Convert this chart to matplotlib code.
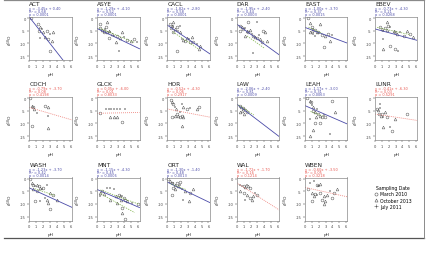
import matplotlib
matplotlib.use("Agg")
import matplotlib.pyplot as plt
from matplotlib.lines import Line2D

# ---------------- data ----------------
sites = ["ACT", "ASYE", "CACL", "DAR", "EAST", "EBEV",
         "CDCH", "GLCK", "HOR", "LAW", "LEAH", "LUNR",
         "WASH", "MNT", "ORT", "WAL", "WBEN"]

act_x = [0.2, 1.3, 1.55, 1.8, 1.4, 2.05, 2.55, 3.0, 2.3, 2.8, 1.55, 3.3, 3.5, 3.0]
act_y = [0.0, -2.4, -3.7, -4.3, -5.0, -5.6, -5.0, -6.3, -7.6, -8.3, -8.0, -8.9, -5.6, -12.9]
act_d = "MMOJMOMJOMJOOM"

asye_x = [0.5, 0.75, 0.95, 1.2, 1.45, 1.05, 1.7, 1.95, 1.35, 2.2, 2.45, 2.95, 3.4, 3.9, 4.4, 4.9, 5.4, 5.9, 2.7, 1.7, 3.2, 3.7, 0.5, 1.45]
asye_y = [-4.1, -4.6, -5.0, -4.3, -5.4, -5.6, -5.0, -5.6, -3.7, -6.3, -7.0, -7.2, -8.0, -7.6, -8.5, -8.9, -8.1, -9.3, -9.3, -8.0, -12.9, -5.4, -2.4, -1.7]
asye_d = "MOMJOMOJMOJMOJMOMJOMJOMO"

cacl_x = [0.4, 0.65, 0.9, 0.5, 1.15, 1.35, 1.6, 1.85, 0.8, 2.1, 2.35, 2.6, 2.85, 3.1, 3.3, 3.6, 3.8, 4.3, 4.8, 1.35, 0.9, 1.85, 4.6]
cacl_y = [-2.4, -3.0, -3.3, -4.1, -4.3, -3.7, -5.0, -5.6, -5.6, -8.3, -8.5, -8.9, -8.0, -8.3, -9.6, -7.6, -9.3, -10.2, -10.9, -12.9, -1.7, -3.0, -12.2]
cacl_d = "MOJMOMJOMJOMOJMOMJOMOJO"

dar_x = [0.5, 0.75, 0.95, 1.2, 1.45, 1.7, 1.95, 2.2, 2.45, 2.7, 2.95, 3.2, 3.4, 3.9, 4.4, 2.95, 1.7, 1.2, 3.7, 2.45, 4.15, 0.5]
dar_y = [-3.0, -3.7, -4.3, -4.1, -5.0, -5.6, -4.6, -6.3, -7.0, -7.6, -8.0, -6.7, -8.3, -5.0, -8.9, -1.7, -1.7, -7.0, -9.6, -13.6, -5.6, -5.0]
dar_d = "MOMJOMOJMOMJOMOJMOMJOM"

east_x = [0.5, 0.75, 0.95, 1.2, 0.95, 1.45, 1.7, 1.2, 1.95, 2.2, 1.45, 2.45, 2.9, 3.4, 3.9, 3.7, 2.7, 0.75]
east_y = [-0.1, -2.0, -3.7, -4.3, -5.0, -4.6, -5.6, -6.3, -5.4, -2.4, -7.0, -6.7, -7.0, -6.3, -6.7, -8.9, -11.5, -5.6]
east_d = "MOMJOMOJMOJMOMJOMO"

ebev_x = [0.75, 1.0, 1.2, 1.45, 1.7, 1.95, 2.2, 2.7, 2.95, 3.2, 3.7, 4.2, 4.7, 5.15, 5.6, 1.2, 2.2, 1.2, 2.95, 3.4, 1.7]
ebev_y = [-3.7, -4.3, -5.0, -4.1, -4.6, -3.0, -3.7, -5.0, -5.6, -6.3, -5.6, -7.0, -5.0, -6.3, -7.6, -8.3, -10.9, -12.2, -12.2, -12.9, -1.7]
ebev_d = "MOJMOMJOMOJMOMOJMOMJO"

cdch_x = [0.1, 0.35, 0.6, 0.75, 1.1, 2.3, 2.8, 2.8, 0.45, 2.8]
cdch_y = [0.0, -3.0, -3.7, -4.3, -6.0, -3.0, -3.4, -7.0, -10.9, -11.8]
cdch_d = "MOMOJMOJMO"

glck_x = [1.3, 1.7, 2.05, 2.45, 2.9, 3.35, 4.15, 1.95, 2.45, 2.9, 3.7, 0.5]
glck_y = [-4.3, -4.3, -4.3, -4.3, -4.3, -4.3, -4.3, -7.6, -7.6, -7.6, -9.6, -6.0]
glck_d = "JJJJJJJOOOMM"

hor_x = [0.5, 0.65, 0.9, 1.15, 1.25, 1.35, 1.6, 1.85, 2.1, 2.35, 1.8, 2.1, 2.3, 2.85, 3.3, 4.3, 4.6, 1.15, 0.65, 2.1]
hor_y = [-0.8, -1.7, -2.4, -3.7, -4.3, -6.3, -6.9, -5.6, -6.9, -7.6, -7.6, -2.4, -3.7, -4.3, -4.0, -4.3, -3.4, -6.9, -7.6, -10.9]
hor_d = "MOMJOMOJMOMJOMJOMOMO"

law_x = [0.5, 0.65, 0.9, 1.0, 0.75, 1.2, 0.5, 1.45, 1.0]
law_y = [-3.0, -3.7, -3.9, -4.3, -5.0, -4.7, -5.6, -5.6, -6.3]
law_d = "MOMJOMOMO"

leah_x = [0.25, 0.75, 0.85, 1.0, 1.2, 1.1, 1.45, 1.7, 1.95, 2.2, 2.45, 2.7, 1.6, 3.9, 4.4, 0.75, 1.45, 1.2, 2.2, 3.7, 0.75, 2.9]
leah_y = [0.0, -1.0, -1.7, -2.6, -3.7, -5.0, -5.6, -4.3, -6.3, -6.9, -7.6, -6.6, -7.6, -1.0, -5.6, -8.3, -10.0, -12.6, -10.0, -14.2, -14.8, -7.6]
leah_d = "MOMJOMOJMOMJOMOJMOMJOM"

lunr_x = [0.25, 0.5, 0.75, 0.65, 0.85, 1.0, 1.2, 1.45, 1.7, 1.1, 2.2, 2.45, 2.9, 4.7, 0.75]
lunr_y = [-4.3, -4.7, -3.9, -6.3, -6.9, -6.3, -7.6, -5.6, -7.6, -11.4, -11.6, -13.0, -8.3, -6.1, -2.4]
lunr_d = "MOJMOMJOMOJMOMJ"

wash_x = [0.1, 0.35, 0.6, 0.85, 1.1, 1.35, 1.55, 1.8, 2.05, 0.6, 1.1, 2.55, 3.05, 3.5, 4.0, 1.55, 0.85, 2.8, 3.05, 2.3, 2.55]
wash_y = [-0.1, -1.7, -2.4, -3.0, -2.4, -2.8, -3.7, -4.3, -3.7, -4.3, -5.0, -2.4, -5.6, -6.3, -8.3, -8.9, -8.9, -9.6, -12.0, -7.6, -8.3]
wash_d = "MOMJOMOJMOMJOMOJMOMJO"

mnt_x = [0.5, 0.75, 1.0, 1.45, 1.95, 2.45, 2.7, 3.2, 3.35, 3.7, 3.9, 3.45, 4.15, 4.4, 5.15, 6.0, 2.95, 3.7, 3.7, 4.15, 0.5, 1.95]
mnt_y = [-5.6, -5.0, -5.9, -3.7, -3.7, -4.3, -7.0, -6.3, -6.7, -6.7, -7.6, -8.3, -8.3, -8.9, -9.6, -10.2, -9.6, -11.6, -13.5, -16.0, -7.0, -8.3]
mnt_d = "OMOJJJOMOJMOMOJMOMOMJO"

ort_x = [0.15, 0.4, 0.65, 0.9, 1.15, 1.35, 1.6, 1.85, 0.9, 1.15, 0.65, 2.1, 2.6, 3.3, 3.1, 2.35, 1.85, 3.8]
ort_y = [-0.1, -1.0, -1.7, -1.9, -2.4, -1.7, -3.0, -2.4, -3.7, -4.3, -6.3, -4.3, -5.0, -5.6, -8.9, -8.3, -1.4, -4.3]
ort_d = "MOMJOMOJMOMJOMOJMO"

wal_x = [0.5, 0.75, 1.0, 1.2, 1.45, 1.7, 1.95, 0.5, 1.0, 1.45, 2.7, 2.95, 2.45, 1.95, 2.2, 1.2]
wal_y = [-2.4, -3.0, -2.8, -3.3, -2.4, -3.0, -3.7, -5.0, -5.6, -6.3, -5.6, -6.3, -7.0, -7.6, -8.3, -8.3]
wal_d = "JJMOJOMOMOJMOMOJ"

wben_x = [0.75, 1.25, 1.7, 1.95, 2.2, 2.1, 0.5, 1.0, 1.45, 1.25, 1.7, 2.2, 2.7, 2.45, 3.2, 3.7, 4.2, 4.65, 3.9, 2.9, 1.0, 2.7]
wben_y = [-1.7, -1.0, -2.4, -2.8, -2.0, -3.0, -4.3, -5.6, -5.9, -6.9, -6.3, -5.6, -6.9, -8.3, -6.3, -5.0, -5.6, -4.3, -7.6, -8.9, -8.9, -10.2]
wben_d = "JJMJOJMOMOJMOMOJMOMOMO"

site_x = [act_x, asye_x, cacl_x, dar_x, east_x, ebev_x, cdch_x, glck_x, hor_x,
          law_x, leah_x, lunr_x, wash_x, mnt_x, ort_x, wal_x, wben_x]
site_y = [act_y, asye_y, cacl_y, dar_y, east_y, ebev_y, cdch_y, glck_y, hor_y,
          law_y, leah_y, lunr_y, wash_y, mnt_y, ort_y, wal_y, wben_y]
site_d = [act_d, asye_d, cacl_d, dar_d, east_d, ebev_d, cdch_d, glck_d, hor_d,
          law_d, leah_d, lunr_d, wash_d, mnt_d, ort_d, wal_d, wben_d]

slopes = [-3.45, -1.29, -1.82, -1.95, -1.00, -0.73, -0.79, 0.05, -0.52,
          -2.06, -1.17, -0.41, -1.23, -1.15, -1.30, -1.72, -0.60]
intercepts = [0.40, -4.10, -2.80, -2.40, -3.70, -4.30, -3.70, -6.00, -4.30,
              -2.40, -3.00, -6.30, -3.70, -4.30, -1.40, -1.70, -3.50]
r2_vals = ["0.68", "0.52", "0.58", "0.44", "0.37", "0.21", "0.08", "0.01", "0.06",
           "0.81", "0.31", "0.03", "0.42", "0.45", "0.48", "0.16", "0.05"]
p_vals = ["0.0001", "0.0001", "0.0001", "0.0003", "0.0015", "0.0268", "0.4198", "0.8033", "0.2917",
          "0.0009", "0.0063", "0.5291", "0.0014", "0.0006", "0.0013", "0.1214", "0.3218"]
significant = [True, True, True, True, True, True, False, False, False,
               True, True, False, True, True, True, False, False]

# per-date (green) fits: site index, slope, intercept, x start, x end
green_site = [1, 2, 3, 4, 5, 9, 10, 12, 13, 13, 14]
green_slope = [-1.10, -1.80, -1.90, -1.20, -0.60, -1.80, -1.00, -0.90, -1.00, -1.50, -1.00]
green_int = [-3.6, -4.0, -4.2, -3.0, -3.5, -2.2, -4.5, -3.3, -4.0, -5.2, -1.6]
green_x0 = [0.3, 0.8, 1.5, 0.5, 0.3, 0.3, 0.8, 0.8, 0.5, 0.5, 0.5]
green_x1 = [5.5, 4.5, 4.0, 2.5, 5.0, 2.5, 2.6, 3.8, 6.0, 5.5, 2.8]

date_labels = ["March 2010", "October 2013", "July 2011"]
date_codes = ["M", "O", "J"]
date_markers = {"M": "o", "O": "^", "J": "+"}

x_ticks = [0, 1, 2, 3, 4, 5, 6]
y_ticks = [0, -5, -10, -15]

# ---------------- layout ----------------
W, H = 427, 255
fig = plt.figure(figsize=(W / 100, H / 100), dpi=100)
plt.rcParams["font.family"] = ["DejaVu Sans"]

col_left = [29.3, 97.0, 167.3, 236.7, 305.0, 375.0]
row_top = [18.0, 98.0, 178.5]
axw, axh = 42.5, 43.2

BLUE = "#4a4aa8"
RED = "#e8554e"
GREEN = "#7fb24a"
GREY = "#555555"

for i, name in enumerate(sites):
    r, c = divmod(i, 6)
    left, top = col_left[c], row_top[r]
    ax = fig.add_axes([left / W, 1 - (top + axh) / H, axw / W, axh / H])
    ax.set_xlim(0, 6.2)
    ax.set_ylim(-16.6, 0.4)
    for code in date_codes:
        xs = [x for x, d in zip(site_x[i], site_d[i]) if d == code]
        ys = [y for y, d in zip(site_y[i], site_d[i]) if d == code]
        ax.plot(xs, ys, linestyle="none", marker=date_markers[code],
                markersize=2.0, markerfacecolor="none", markeredgecolor=GREY,
                markeredgewidth=0.35)
    col = BLUE if significant[i] else RED
    if significant[i]:
        ax.axline((0, intercepts[i]), slope=slopes[i], color=col, lw=0.6)
    else:
        ax.axline((0, intercepts[i]), slope=slopes[i], color="#f08a84", lw=0.6,
                  linestyle=(0, (1.2, 1.2)))
    for s, m, b, x0, x1 in zip(green_site, green_slope, green_int, green_x0, green_x1):
        if s == i:
            ax.plot([x0, x1], [b + m * x0, b + m * x1], color=GREEN, lw=0.5,
                    linestyle=(0, (2, 1.5)))
    ax.set_xticks(x_ticks)
    ax.set_xticklabels([str(t) for t in x_ticks])
    ax.set_yticks(y_ticks)
    ax.set_yticklabels([str(t) for t in y_ticks])
    ax.tick_params(labelsize=2.6, length=1.5, width=0.35, pad=1.0,
                   colors="#444444")
    for sp in ax.spines.values():
        sp.set_linewidth(0.5)
        sp.set_color("#888888")
    ax.set_xlabel("pH", fontsize=3.2, color="#333333")
    ax.set_ylabel(r"$\delta^{18}$O", fontsize=3.2, color="#333333")
    ax.xaxis.set_label_coords(0.5, -0.27)
    ax.yaxis.set_label_coords(-0.33, 0.5)

    fig.text(left / W, 1 - (top - 13) / H, name, fontsize=4.2,
             color="#222222", va="center", ha="left")
    lines = [f"y = {slopes[i]:.2f}x + {intercepts[i]:.2f}",
             f"R\u00b2 = {r2_vals[i]}",
             f"p = {p_vals[i]}"]
    for k, t in enumerate(lines):
        fig.text(left / W, 1 - (top - 8.7 + 3 * k) / H, t, fontsize=2.5,
                 color=col, va="center", ha="left")

# legend
handles = [Line2D([], [], linestyle="none", marker=date_markers[c], markersize=2.2,
                  markerfacecolor="none", markeredgecolor=GREY, markeredgewidth=0.4)
           for c in date_codes]
fig.legend(handles, date_labels, title="Sampling Date", loc="center",
           bbox_to_anchor=(393 / W, 1 - 198 / H), frameon=False, fontsize=3.3,
           title_fontsize=3.3, handlelength=0.8, handletextpad=0.4,
           labelspacing=0.25, borderpad=0.2)

# frame
frame_col = "#8a8a8a"
fig.add_artist(Line2D([4 / W, 424 / W], [1 - 1 / H, 1 - 1 / H], color=frame_col, lw=0.9))
fig.add_artist(Line2D([4 / W, 424 / W], [1 - 239 / H, 1 - 239 / H], color="#555555", lw=0.9))
fig.add_artist(Line2D([424 / W, 424 / W], [1 - 1 / H, 1 - 239 / H], color=frame_col, lw=0.7))

fig.savefig("out.png", dpi=100)
